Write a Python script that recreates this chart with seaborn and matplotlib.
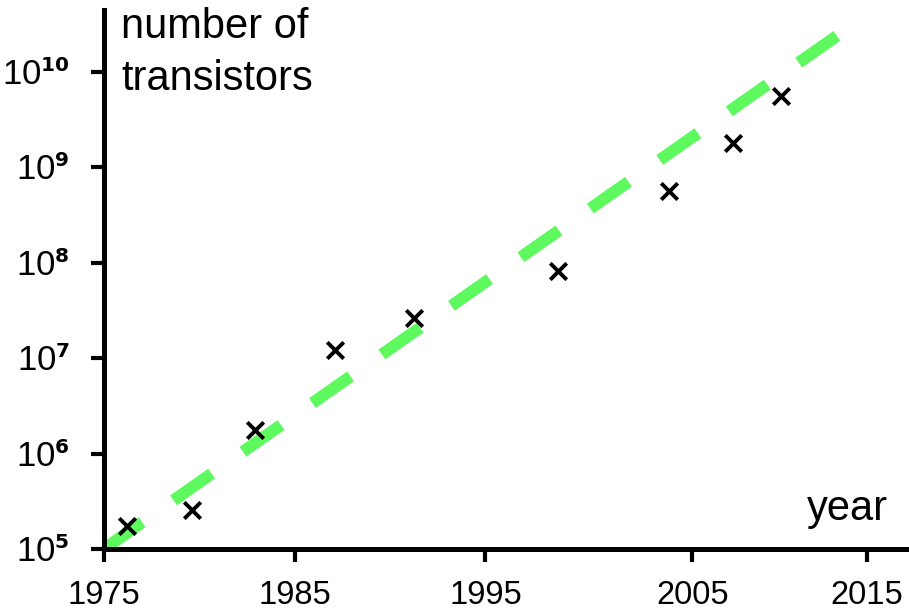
import numpy as np
import pandas as pd
import matplotlib
matplotlib.use("Agg")
import matplotlib.pyplot as plt
import matplotlib._mathtext as mathtext_internal
from matplotlib.ticker import FixedLocator, FixedFormatter, NullLocator
import seaborn as sns

# --- data ---
years = [1976.2, 1979.6, 1982.9, 1987.1, 1991.25, 1998.8, 2004.6, 2008.0, 2010.5]
transistors = [1.74e5, 2.57e5, 1.77e6, 1.22e7, 2.64e7, 8.3e7, 5.6e8, 1.79e9, 5.6e9]

trend_years = [1975, 2013.5]
trend_values = [1e5, 2.45e10]

xtick_pos = [1975, 1985, 1995, 2005.85, 2015]
xtick_labels = ["1975", "1985", "1995", "2005", "2015"]
ytick_exp = [5, 6, 7, 8, 9, 10]

points = pd.DataFrame({"year": years, "count": transistors})
trend = pd.DataFrame({"year": trend_years, "count": trend_values})

sns.set_style("ticks")
plt.rcParams["font.family"] = ["Liberation Sans", "DejaVu Sans"]
plt.rcParams["text.color"] = "black"
# smaller superscripts, like the reference exponents
mathtext_internal.SHRINK_FACTOR = 0.58

fig = plt.figure(figsize=(9.09, 6.10), dpi=100)
ax = fig.add_axes([104 / 909, 61 / 610, (908 - 104) / 909, (549 - 10) / 610])

sns.lineplot(data=trend, x="year", y="count", color="#5ef95e", linewidth=8.6,
             linestyle=(0, (3.9, 3.2)), dash_capstyle="butt", ax=ax, zorder=2)
sns.scatterplot(data=points, x="year", y="count", marker="x", s=140,
                color="black", linewidth=2.8, ax=ax, zorder=3)

ax.set_yscale("log")
ax.set_xlim(1975, 2017.15)
ax.set_ylim(1e5, 10 ** 10.65)

ax.xaxis.set_major_locator(FixedLocator(xtick_pos))
ax.xaxis.set_major_formatter(FixedFormatter(xtick_labels))
ax.yaxis.set_major_locator(FixedLocator([10.0 ** e for e in ytick_exp]))
ax.yaxis.set_major_formatter(FixedFormatter(
    [r"$\mathregular{10^{\mathbf{%d}}}$" % e for e in ytick_exp]))
ax.yaxis.set_minor_locator(NullLocator())
ax.xaxis.set_minor_locator(NullLocator())

for side in ["top", "right"]:
    ax.spines[side].set_visible(False)
for side in ["left", "bottom"]:
    ax.spines[side].set_linewidth(3.6)
    ax.spines[side].set_color("black")

ax.tick_params(axis="both", which="major", direction="out", length=9.5, width=3,
               color="black", labelcolor="black")
ax.tick_params(axis="x", pad=13, labelsize=23.5)
ax.tick_params(axis="y", pad=15, labelsize=25)
ax.set_xlabel("")
ax.set_ylabel("")

fig.text(121 / 909, 1 - 38 / 610, "number of", fontsize=30, ha="left", va="baseline")
fig.text(121 / 909, 1 - 90 / 610, "transistors", fontsize=30, ha="left", va="baseline")
fig.text(888 / 909, 90 / 610, "year", fontsize=30, ha="right", va="baseline")

fig.savefig("out.png", dpi=100)
